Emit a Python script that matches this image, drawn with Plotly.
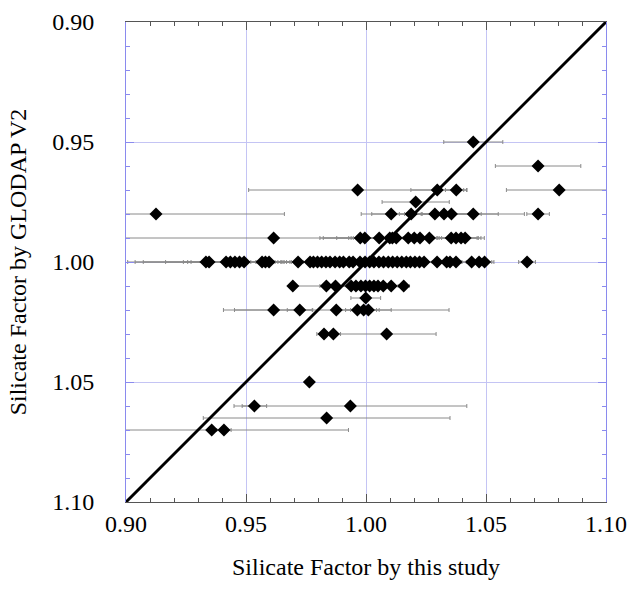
import plotly.graph_objects as go

# ---- data: silicate factor (this study, x) vs GLODAP V2 (y), with x error ----
row_095_x = [1.0447]
row_095_err = [0.0123]
row_096_x = [1.0717]
row_096_err = [0.0178]
row_097_x = [0.9965, 1.0297, 1.0376, 1.0805]
row_097_err = [0.0454, 0.011, 0.0045, 0.022]
row_0975_x = [1.0207]
row_0975_err = [0.014]
row_098_x = [0.9125, 1.0105, 1.0188, 1.0287, 1.0325, 1.0356, 1.0447, 1.0717]
row_098_err = [0.0535, 0.0125, 0.0164, 0.0148, 0.0155, 0.0195, 0.0213, 0.0047]
row_099_x = [0.9615, 0.9976, 0.9995, 1.0055, 1.0099, 1.0110, 1.0126, 1.0176,
             1.0201, 1.0225, 1.0264, 1.0355, 1.0375, 1.0396, 1.0413]
row_099_err = [0.07, 0.0168, 0.0173, 0.0177, 0.0171, 0.0172, 0.0179, 0.008,
               0.006, 0.007, 0.008, 0.0113, 0.0104, 0.0097, 0.005]
row_100_x = [0.9333, 0.9346, 0.9417, 0.9435, 0.9454, 0.9473, 0.9492,
             0.9567, 0.9581, 0.9596, 0.9717,
             0.9767, 0.9781, 0.9798, 0.9815,
             0.9833, 0.9850, 0.9871, 0.9890, 0.9906, 0.9930, 0.9946,
             0.9975, 0.9996, 1.0015, 1.0033, 1.0054, 1.0073, 1.0093, 1.0111,
             1.0130, 1.0149, 1.0168, 1.0185, 1.0204, 1.0223, 1.0242,
             1.0296, 1.0336, 1.0350, 1.0375,
             1.0440, 1.0471, 1.0494, 1.0671]
row_100_err = [0.0326, 0.0308, 0.0345, 0.027, 0.0215, 0.0216, 0.0221,
               0.0047, 0.004, 0.005, 0.0084,
               0.0121, 0.0098, 0.006, 0.005,
               0.004, 0.005, 0.006, 0.004, 0.005, 0.006, 0.004,
               0.005, 0.006, 0.004, 0.005, 0.006, 0.004, 0.005, 0.006,
               0.004, 0.005, 0.006, 0.004, 0.005, 0.006, 0.004,
               0.005, 0.006, 0.005, 0.006,
               0.005, 0.0053, 0.0039, 0.0035]
row_101_x = [0.9695, 0.9835, 0.9873, 0.9938, 0.9958, 0.9979, 0.9998, 1.0015,
             1.0033, 1.0050, 1.0072, 1.0105, 1.0157]
row_101_err = [0.0, 0.014, 0.0065, 0.0118, 0.004, 0.005, 0.004, 0.005,
               0.004, 0.005, 0.004, 0.005, 0.0023]
row_1015_x = [0.9999]
row_1015_err = [0.0062]
row_102_x = [0.9615, 0.9724, 0.9876, 0.9964, 0.9990, 1.0010]
row_102_err = [0.0163, 0.0052, 0.047, 0.0091, 0.0054, 0.0095]
row_103_x = [0.9825, 0.9864, 1.0086]
row_103_err = [0.003, 0.003, 0.0206]
row_105_x = [0.9764]
row_105_err = [0.0]
row_106_x = [0.9535, 0.9935]
row_106_err = [0.0051, 0.0485]
row_1065_x = [0.9836]
row_1065_err = [0.0514]
row_107_x = [0.9357, 0.9408]
row_107_err = [0.057, 0.003]

glodap_levels = [0.95, 0.96, 0.97, 0.975, 0.98, 0.99, 1.00, 1.01, 1.015,
                 1.02, 1.03, 1.05, 1.06, 1.065, 1.07]
rows_x = [row_095_x, row_096_x, row_097_x, row_0975_x, row_098_x, row_099_x,
          row_100_x, row_101_x, row_1015_x, row_102_x, row_103_x, row_105_x,
          row_106_x, row_1065_x, row_107_x]
rows_err = [row_095_err, row_096_err, row_097_err, row_0975_err, row_098_err,
            row_099_err, row_100_err, row_101_err, row_1015_err, row_102_err,
            row_103_err, row_105_err, row_106_err, row_1065_err, row_107_err]

one_to_one_x = [0.90, 1.10]
one_to_one_y = [1.10, 0.90]

tick_vals = [0.90, 0.95, 1.00, 1.05, 1.10]
tick_text = ["0.90", "0.95", "1.00", "1.05", "1.10"]

xs, ys, es = [], [], []
for lvl, rx, re_ in zip(glodap_levels, rows_x, rows_err):
    xs += rx
    ys += [lvl] * len(rx)
    es += re_

fig = go.Figure()
fig.add_trace(go.Scatter(
    x=xs, y=ys, mode="markers",
    marker=dict(symbol="diamond", size=10, color="black"),
    error_x=dict(type="data", array=es, visible=True, color="#8a8a8a",
                 thickness=1, width=2),
    showlegend=False,
))
fig.add_trace(go.Scatter(
    x=one_to_one_x, y=one_to_one_y, mode="lines",
    line=dict(color="black", width=3), showlegend=False,
))

font = dict(family="Liberation Serif", size=24, color="black")
grid_col = "#c4c4f4"
frame_blue = "#8a8aee"

fig.update_layout(
    width=632, height=593,
    margin=dict(l=126, r=26, t=22, b=91),
    paper_bgcolor="white", plot_bgcolor="white",
    font=font,
    xaxis=dict(
        range=[0.90, 1.10], tickvals=tick_vals, ticktext=tick_text,
        automargin=False,
        showgrid=True, gridcolor=grid_col, gridwidth=1, zeroline=False,
        showline=True, linecolor="#555555", linewidth=1, mirror="ticks",
        ticks="inside", ticklen=8, tickcolor="#555555",
        minor=dict(dtick=0.01, ticks="inside", ticklen=4, tickcolor="#555555",
                   showgrid=False),
        ticklabelstandoff=0,
        title=dict(text="Silicate Factor by this study", font=font, standoff=22),
        tickfont=font,
    ),
    yaxis=dict(
        range=[1.10, 0.90], tickvals=tick_vals, ticktext=tick_text,
        automargin=False,
        showgrid=True, gridcolor=grid_col, gridwidth=1, zeroline=False,
        showline=True, linecolor=frame_blue, linewidth=1, mirror="ticks",
        ticks="inside", ticklen=8, tickcolor=frame_blue,
        minor=dict(dtick=0.01, ticks="inside", ticklen=4, tickcolor=frame_blue,
                   showgrid=False),
        ticklabelstandoff=26,
        title=dict(text="Silicate Factor by GLODAP V2", font=font, standoff=18),
        tickfont=font,
    ),
)

fig.write_html("out.html", config={"displayModeBar": False},
               post_script="document.body.style.margin='0';")
